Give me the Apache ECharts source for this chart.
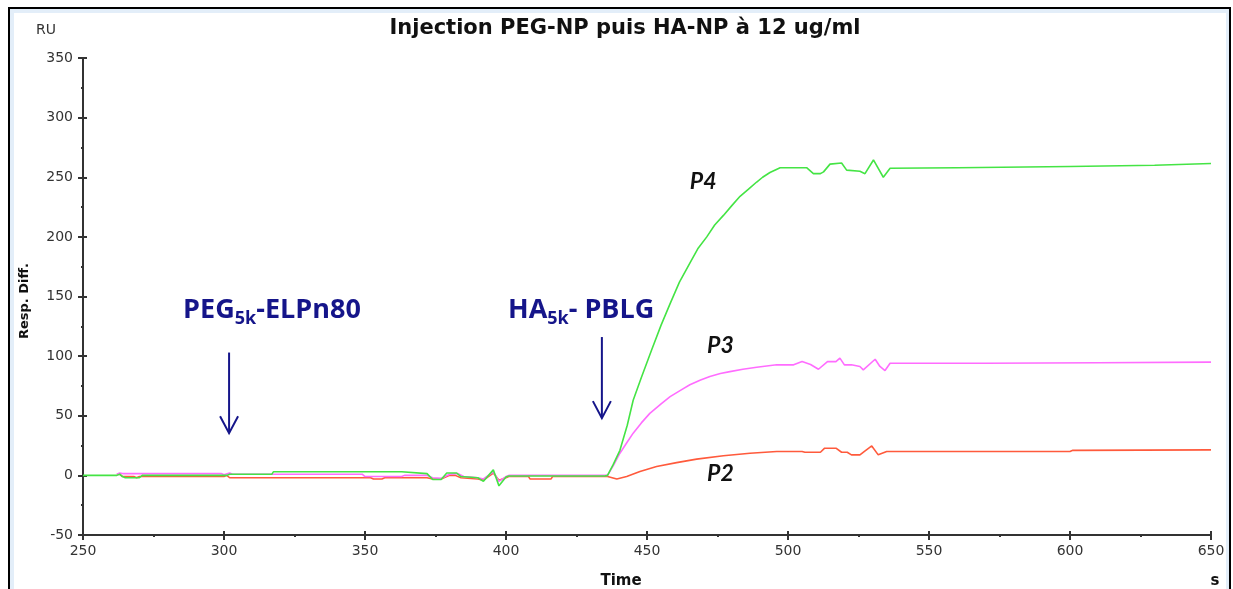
<!DOCTYPE html>
<html><head><meta charset="utf-8">
<script src="https://cdn.jsdelivr.net/npm/echarts/dist/echarts.min.js"></script>
<style>html,body{margin:0;padding:0;background:#fff}#c{width:1233px;height:589px}</style>
</head><body><div id="c"></div>
<script>
const titleText = 'Injection PEG-NP puis HA-NP à 12 ug/ml';
const xTicks = [250, 300, 350, 400, 450, 500, 550, 600, 650];
const yTicks = [-50, 0, 50, 100, 150, 200, 250, 300, 350];
const seriesNames = ['P2', 'P3', 'P4'];

// [time (s), response (RU)]
const P2 = [[262,1],[263,1],[264,-1],[268,-1],[269,-2],[270,-1],[300,-1],[301,0],[302,-2],[352,-2],[353,-3],[356,-3],[357,-2],[372,-2],[374,-3],[377,-3],[380,0],[382,0],[384,-2],[390,-3],[392,-4],[395.5,2],[397.5,-4],[400,-2],[401,-1],[408,-1],[408.5,-3],[416,-3],[416.5,-1],[436,-1],[439.3,-3],[442.8,-1],[447.5,3.2],[453.4,7.4],[460.5,10.7],[467.6,13.6],[477.1,16.4],[486.5,18.6],[496,20],[505,20],[506,19.4],[511.5,19.4],[513,22.8],[517,22.8],[519,19.4],[521,19.4],[522.5,17.2],[525.5,17.2],[527,20],[529.7,24.7],[532,17.2],[535,20],[600,20],[601,21],[650,21.4]];
const P3 = [[262,1],[263,2],[264,1.5],[299,1.5],[300,0.5],[302,2],[303,1],[349,1],[350,-1],[363,-1],[364,0],[372,0],[374,-2],[377,-2.5],[380,1],[383,1.5],[385,-1],[390,-2],[392,-3],[395.5,3],[397.5,-5],[400,-1],[401,0],[436,0],[438,8],[440.4,18.6],[443,28],[445.1,35.4],[448,44],[451,52],[455,60],[458.2,66],[462,71.5],[465.2,76],[469,80],[472.3,83],[476,85.5],[479.4,87],[484,89],[488.9,90.7],[496,92.7],[502,92.7],[505,95.4],[508,93],[510.8,89],[514,95.4],[517,95.4],[518.4,98.3],[520,92.7],[522.5,92.7],[525.5,91.3],[526.7,88.5],[530.9,97.4],[532.6,91.3],[534.4,87.9],[536.2,94],[570,94],[610,94.5],[650,95]];
const P4 = [[250,0],[262,0],[263,1],[264,-1],[265,-2],[270,-2],[271,0],[300,0],[300.5,-1],[301,0],[302,1],[317,1],[317.5,3],[363,3],[363.5,1.5],[372,1.5],[374,-3.5],[377,-3.5],[379,2],[382.5,2],[384,-1],[390,-2],[392,-5],[395.5,4.6],[397.5,-8.8],[400,-1.3],[401,-0.5],[435,-0.5],[436,0],[438,9],[440.4,21],[443,42],[445.1,63],[448,82],[451.6,105],[455,126],[458.2,144],[461.5,162],[465.2,178],[468,190],[471.2,200],[474,210],[477.1,218],[480,226],[483,234],[486,240],[488.9,246],[491,250],[493.6,254],[497.2,258],[506.6,258],[509,253],[511.5,253],[512.6,254.5],[514.9,261],[519,262],[520.8,256],[525.5,255],[527.3,253],[530.3,264.5],[533.8,250],[536.2,257.6],[560,258],[600,259],[630,260],[650,261.5]];

// annotations in data coordinates (text positions = top-left of text)
const injections = [
  {main1: 'PEG', sub: '5k', main2: '-ELPn80', textAt: [285.5, 149.5], arrowTop: [301.8, 103], arrowBottom: [301.8, 35.4]},
  {main1: 'HA', sub: '5k', main2: '- PBLG', textAt: [400.7, 149.5], arrowTop: [434, 116], arrowBottom: [434, 48]}
];
const curveLabels = [
  {text: 'P4', at: [465.2, 256]},
  {text: 'P3', at: [471.3, 118.5]},
  {text: 'P2', at: [471.3, 11]}
];

const colors = {P2: '#ff5a3c', P3: '#ff6cff', P4: '#44e444'};
const navy = '#15158a';
const labelFont = 'DejaVu Sans';

const chart = echarts.init(document.getElementById('c'), null, {renderer: 'canvas'});

const baseAxis = {type: 'value', splitLine: {show: false}};

chart.setOption({
  animation: false,
  backgroundColor: '#fff',
  title: {
    text: titleText, left: 620, top: 13, textAlign: 'center',
    textStyle: {fontFamily: labelFont, fontWeight: 'bold', fontSize: 21, color: '#111'}
  },
  grid: {left: 83, right: 22, top: 58, bottom: 54, containLabel: false},
  xAxis: [
    Object.assign({}, baseAxis, {
      min: xTicks[0], max: xTicks[xTicks.length - 1], interval: xTicks[1] - xTicks[0],
      axisLine: {show: true, onZero: false, lineStyle: {color: '#333', width: 2}},
      axisTick: {show: true, length: 5, lineStyle: {color: '#333', width: 2}},
      minorTick: {show: true, splitNumber: 2, length: 2, lineStyle: {color: '#333', width: 2}},
      axisLabel: {margin: 9, fontFamily: labelFont, fontSize: 14, color: '#333'}
    }),
    Object.assign({}, baseAxis, {
      min: xTicks[0], max: xTicks[xTicks.length - 1], interval: xTicks[1] - xTicks[0],
      position: 'bottom',
      axisLine: {show: false, onZero: false},
      axisTick: {show: true, inside: true, length: 4, lineStyle: {color: '#333', width: 2}},
      axisLabel: {show: false}
    })
  ],
  yAxis: [
    Object.assign({}, baseAxis, {
      min: yTicks[0], max: yTicks[yTicks.length - 1], interval: yTicks[1] - yTicks[0],
      axisLine: {show: true, onZero: false, lineStyle: {color: '#333', width: 2}},
      axisTick: {show: true, length: 5, lineStyle: {color: '#333', width: 2}},
      minorTick: {show: true, splitNumber: 2, length: 2, lineStyle: {color: '#333', width: 2}},
      axisLabel: {margin: 10, fontFamily: labelFont, fontSize: 14, color: '#333'}
    }),
    Object.assign({}, baseAxis, {
      min: yTicks[0], max: yTicks[yTicks.length - 1], interval: yTicks[1] - yTicks[0],
      position: 'left',
      axisLine: {show: false, onZero: false},
      axisTick: {show: true, inside: true, length: 4, lineStyle: {color: '#333', width: 2}},
      axisLabel: {show: false}
    })
  ],
  series: [
    {name: seriesNames[0], data: P2, color: colors.P2},
    {name: seriesNames[1], data: P3, color: colors.P3},
    {name: seriesNames[2], data: P4, color: colors.P4}
  ].map(s => ({
    type: 'line', name: s.name, data: s.data, xAxisIndex: 0, yAxisIndex: 0,
    showSymbol: false, symbol: 'none', smooth: false,
    lineStyle: {color: s.color, width: 1.6}, itemStyle: {color: s.color}
  }))
});

// annotations & frame
const ctx = document.createElement('canvas').getContext('2d');
function measure(text, font) { ctx.font = font; return ctx.measureText(text).width; }
const annFamily = 'Open Sans';
const mainSize = 27, subSize = 18;
const g = [];

// outer frame
g.push({type: 'rect', shape: {x: 12, y: 11, width: 1216, height: 600}, style: {fill: 'none', stroke: '#e3eef9', lineWidth: 4}, silent: true, z: 0});
g.push({type: 'rect', shape: {x: 9, y: 8, width: 1221, height: 600}, style: {fill: 'none', stroke: '#000', lineWidth: 2}, silent: true, z: 1});

// axis titles
g.push({type: 'text', x: 46, y: 30, style: {text: 'RU', font: '14px "' + labelFont + '"', fill: '#333', align: 'center', verticalAlign: 'middle'}});
g.push({type: 'text', x: 25, y: 301, rotation: Math.PI / 2, style: {text: 'Resp. Diff.', font: 'bold 13px "' + labelFont + '"', fill: '#111', align: 'center', verticalAlign: 'middle'}});
g.push({type: 'text', x: 621, y: 581, style: {text: 'Time', font: 'bold 15px "' + labelFont + '"', fill: '#111', align: 'center', verticalAlign: 'middle'}});
g.push({type: 'text', x: 1215, y: 581, style: {text: 's', font: 'bold 15px "' + labelFont + '"', fill: '#111', align: 'center', verticalAlign: 'middle'}});

injections.forEach(a => {
  const p = chart.convertToPixel({gridIndex: 0}, a.textAt);
  const f1 = 'bold ' + mainSize + 'px "' + annFamily + '"';
  const f2 = 'bold ' + subSize + 'px "' + annFamily + '"';
  let x = p[0];
  g.push({type: 'text', x: x, y: p[1], style: {text: a.main1, font: f1, fill: navy, verticalAlign: 'top'}});
  x += measure(a.main1, f1);
  g.push({type: 'text', x: x, y: p[1] + 13, style: {text: a.sub, font: f2, fill: navy, verticalAlign: 'top'}});
  x += measure(a.sub, f2);
  g.push({type: 'text', x: x, y: p[1], style: {text: a.main2, font: f1, fill: navy, verticalAlign: 'top'}});
  const t = chart.convertToPixel({gridIndex: 0}, a.arrowTop);
  const b = chart.convertToPixel({gridIndex: 0}, a.arrowBottom);
  g.push({type: 'polyline', shape: {points: [[t[0], t[1]], [b[0], b[1]]]}, style: {stroke: navy, lineWidth: 2, fill: null}});
  g.push({type: 'polyline', shape: {points: [[b[0] - 9, b[1] - 17], [b[0], b[1]], [b[0] + 9, b[1] - 17]]}, style: {stroke: navy, lineWidth: 2, fill: null}});
});

curveLabels.forEach(c => {
  const p = chart.convertToPixel({gridIndex: 0}, c.at);
  g.push({type: 'text', x: p[0], y: p[1], style: {text: c.text, font: 'italic bold 23px "Lato"', fill: '#111', verticalAlign: 'top'}});
});

chart.setOption({graphic: g});
</script>
</body></html>
